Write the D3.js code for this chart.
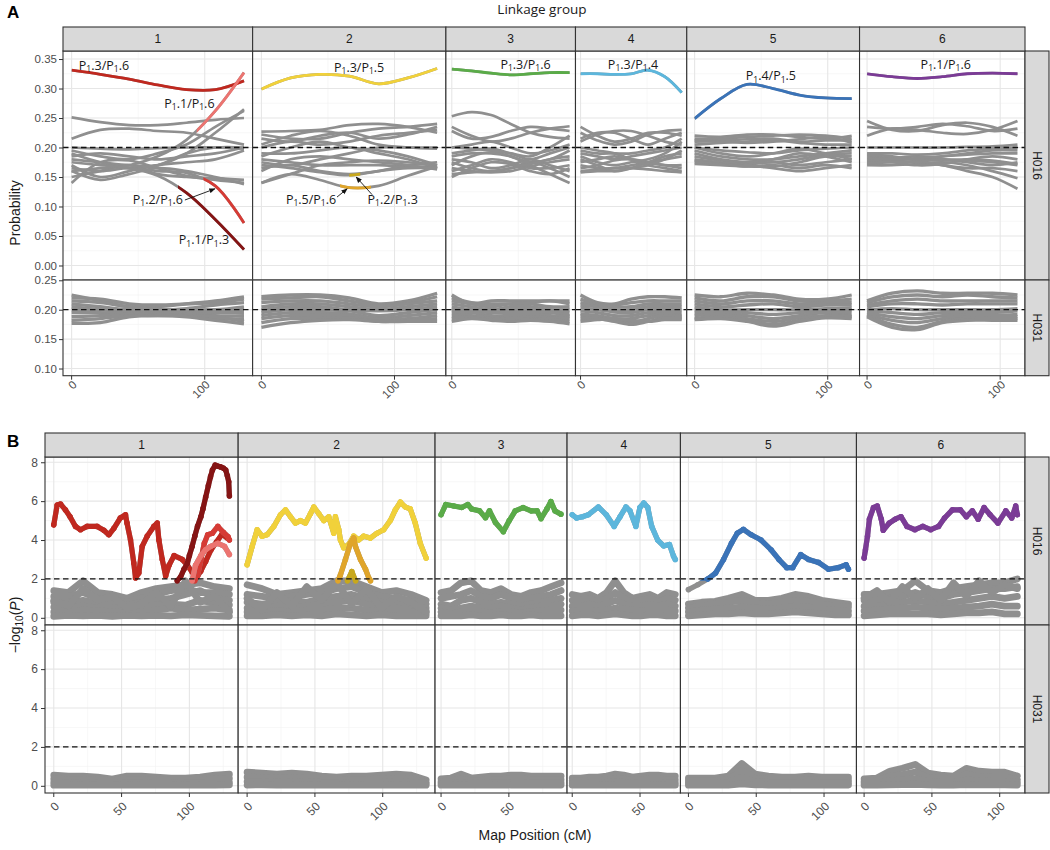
<!DOCTYPE html>
<html>
<head>
<meta charset="utf-8">
<script src="https://cdn.jsdelivr.net/npm/d3@7"></script>
<style>
  body { margin: 0; background: #fff; }
  svg text { font-family: "Liberation Sans", Arial, sans-serif; }
</style>
</head>
<body>
<svg id="chart" width="1050" height="850"></svg>
<script>
// ---- data -------------------------------------------------------------
var groups = ["1", "2", "3", "4", "5", "6"];
var groupLength = [129.5, 132, 88.5, 76, 118, 113];     // cM
var knotFrac = [0, 1/6, 2/6, 3/6, 4/6, 5/6, 1];          // probability knots, fraction of LG
var bandFrac = [0, 1/12, 2/12, 3/12, 4/12, 5/12, 6/12, 7/12, 8/12, 9/12, 10/12, 11/12, 1];
var probTicksH016 = [0, 0.05, 0.10, 0.15, 0.20, 0.25, 0.30, 0.35];
var probTicksH031 = [0.10, 0.15, 0.20, 0.25];
var logpTicks = [0, 2, 4, 6, 8];

// pairing probabilities, H016, grey pairs (one array of knot values per pair)
var grayH016 = [
  [[0.251,0.243,0.238,0.238,0.242,0.247,0.250],
   [0.215,0.230,0.232,0.228,0.225,0.215,0.205],
   [0.200,0.198,0.197,0.199,0.200,0.200,0.198],
   [0.180,0.175,0.170,0.170,0.190,0.225,0.265],
   [0.190,0.175,0.165,0.170,0.190,0.200,0.200],
   [0.170,0.150,0.160,0.170,0.175,0.180,0.195],
   [0.150,0.160,0.170,0.155,0.150,0.148,0.145],
   [0.140,0.175,0.178,0.165,0.152,0.145,0.140],
   [0.160,0.145,0.155,0.165,0.160,0.150,0.138],
   [0.185,0.190,0.185,0.180,0.185,0.190,0.200],
   [0.195,0.185,0.180,0.190,0.205,0.235,0.262]],
  [[0.227,0.228,0.230,0.238,0.240,0.235,0.225],
   [0.222,0.215,0.215,0.225,0.232,0.235,0.240],
   [0.215,0.210,0.220,0.225,0.215,0.222,0.235],
   [0.205,0.220,0.228,0.220,0.205,0.200,0.198],
   [0.200,0.210,0.205,0.210,0.220,0.225,0.230],
   [0.190,0.190,0.195,0.200,0.190,0.180,0.165],
   [0.180,0.175,0.170,0.170,0.170,0.168,0.168],
   [0.175,0.170,0.180,0.190,0.200,0.200,0.200],
   [0.165,0.170,0.160,0.155,0.160,0.170,0.175],
   [0.160,0.180,0.185,0.180,0.175,0.170,0.163],
   [0.140,0.155,0.170,0.175,0.178,0.175,0.170],
   [0.185,0.200,0.210,0.200,0.195,0.185,0.170]],
  [[0.253,0.260,0.255,0.240,0.225,0.218,0.215],
   [0.235,0.220,0.210,0.215,0.225,0.232,0.236],
   [0.228,0.215,0.218,0.228,0.235,0.232,0.228],
   [0.200,0.205,0.210,0.200,0.190,0.195,0.205],
   [0.190,0.195,0.198,0.190,0.180,0.190,0.200],
   [0.185,0.190,0.190,0.185,0.175,0.180,0.195],
   [0.180,0.175,0.165,0.170,0.180,0.170,0.160],
   [0.175,0.165,0.160,0.165,0.175,0.165,0.150],
   [0.170,0.185,0.192,0.185,0.170,0.155,0.140],
   [0.165,0.160,0.158,0.160,0.168,0.175,0.180],
   [0.160,0.170,0.180,0.175,0.165,0.165,0.170],
   [0.155,0.158,0.160,0.165,0.172,0.180,0.185],
   [0.150,0.165,0.175,0.172,0.160,0.155,0.165],
   [0.200,0.198,0.195,0.190,0.185,0.200,0.220]],
  [[0.235,0.220,0.210,0.215,0.225,0.225,0.220],
   [0.210,0.222,0.228,0.228,0.220,0.210,0.205],
   [0.215,0.225,0.225,0.215,0.205,0.215,0.225],
   [0.225,0.212,0.205,0.210,0.222,0.228,0.230],
   [0.195,0.190,0.190,0.190,0.195,0.200,0.215],
   [0.190,0.185,0.180,0.185,0.190,0.195,0.200],
   [0.185,0.175,0.170,0.175,0.180,0.190,0.210],
   [0.175,0.180,0.185,0.180,0.175,0.170,0.170],
   [0.170,0.165,0.165,0.170,0.175,0.180,0.185],
   [0.165,0.170,0.178,0.180,0.175,0.170,0.165],
   [0.160,0.162,0.165,0.165,0.163,0.160,0.158],
   [0.158,0.160,0.160,0.165,0.170,0.180,0.195],
   [0.180,0.170,0.160,0.165,0.175,0.185,0.190],
   [0.200,0.195,0.190,0.180,0.170,0.165,0.160]],
  [[0.220,0.218,0.222,0.222,0.218,0.215,0.220],
   [0.215,0.215,0.218,0.220,0.222,0.220,0.215],
   [0.212,0.212,0.214,0.215,0.210,0.212,0.212],
   [0.210,0.210,0.208,0.210,0.214,0.218,0.208],
   [0.205,0.208,0.210,0.212,0.208,0.205,0.205],
   [0.200,0.195,0.192,0.190,0.195,0.198,0.200],
   [0.195,0.185,0.180,0.180,0.185,0.190,0.195],
   [0.190,0.180,0.175,0.175,0.180,0.188,0.190],
   [0.185,0.178,0.175,0.180,0.190,0.185,0.175],
   [0.180,0.175,0.172,0.175,0.170,0.175,0.180],
   [0.178,0.172,0.170,0.165,0.160,0.165,0.170],
   [0.175,0.172,0.168,0.168,0.175,0.185,0.185],
   [0.172,0.170,0.168,0.170,0.165,0.170,0.165],
   [0.200,0.190,0.185,0.190,0.198,0.190,0.180]],
  [[0.245,0.230,0.228,0.238,0.242,0.235,0.220],
   [0.220,0.232,0.230,0.225,0.223,0.230,0.245],
   [0.235,0.232,0.235,0.240,0.236,0.228,0.232],
   [0.200,0.200,0.200,0.200,0.201,0.202,0.205],
   [0.190,0.190,0.188,0.190,0.195,0.198,0.200],
   [0.185,0.182,0.180,0.185,0.190,0.195,0.195],
   [0.180,0.182,0.185,0.180,0.175,0.170,0.175],
   [0.175,0.178,0.182,0.185,0.188,0.190,0.190],
   [0.170,0.170,0.172,0.175,0.170,0.160,0.148],
   [0.172,0.175,0.175,0.170,0.160,0.150,0.130],
   [0.188,0.185,0.178,0.170,0.165,0.165,0.160],
   [0.178,0.175,0.170,0.172,0.180,0.185,0.180],
   [0.182,0.180,0.180,0.178,0.180,0.178,0.172],
   [0.173,0.176,0.176,0.180,0.178,0.175,0.170]]
];

// pairing probabilities, H016, pairs with a significant stretch (from..to in cM)
var pairsH016 = [
  {group: "1", pair: "P1.3/P1.6", values: [0.331,0.324,0.316,0.306,0.298,0.298,0.313], from: 0,  to: 129.5},
  {group: "1", pair: "P1.1/P1.6", values: [0.160,0.165,0.170,0.185,0.213,0.262,0.327], from: 94, to: 129.5},
  {group: "1", pair: "P1.2/P1.6", values: [0.165,0.160,0.165,0.160,0.157,0.135,0.072], from: 99, to: 129.5},
  {group: "1", pair: "P1.1/P1.3", values: [0.175,0.170,0.165,0.152,0.123,0.078,0.027], from: 80, to: 129.5},
  {group: "2", pair: "P1.3/P1.5", values: [0.299,0.318,0.324,0.321,0.308,0.318,0.334], from: 0,  to: 132},
  {group: "2", pair: "P1.5/P1.6", values: [0.140,0.155,0.145,0.132,0.135,0.152,0.168], from: 59, to: 80},
  {group: "2", pair: "P1.2/P1.3", values: [0.170,0.165,0.158,0.153,0.160,0.165,0.165], from: 66, to: 72},
  {group: "3", pair: "P1.3/P1.6", values: [0.333,0.330,0.326,0.323,0.325,0.327,0.327], from: 0,  to: 88.5},
  {group: "4", pair: "P1.3/P1.4", values: [0.325,0.325,0.324,0.325,0.331,0.320,0.293], from: 0,  to: 76},
  {group: "5", pair: "P1.4/P1.5", values: [0.249,0.283,0.307,0.300,0.289,0.284,0.283], from: 0,  to: 118},
  {group: "6", pair: "P1.1/P1.6", values: [0.325,0.320,0.317,0.320,0.325,0.326,0.325], from: 0,  to: 113}
];

// pairing probabilities, H031 (all grey)
var grayH031 = [
  [[0.225,0.215,0.205,0.205,0.210,0.215,0.222],[0.220,0.218,0.210,0.208,0.210,0.212,0.218],
   [0.215,0.212,0.205,0.200,0.202,0.208,0.212],[0.210,0.205,0.200,0.200,0.200,0.200,0.205],
   [0.205,0.200,0.198,0.198,0.198,0.200,0.200],[0.200,0.200,0.195,0.195,0.196,0.195,0.195],
   [0.195,0.195,0.193,0.195,0.195,0.190,0.190],[0.188,0.190,0.192,0.193,0.193,0.185,0.185],
   [0.182,0.185,0.190,0.190,0.190,0.188,0.180],[0.177,0.178,0.188,0.190,0.188,0.182,0.176]],
  [[0.222,0.225,0.225,0.220,0.210,0.215,0.228],[0.218,0.220,0.222,0.215,0.208,0.212,0.222],
   [0.212,0.215,0.215,0.210,0.205,0.210,0.215],[0.205,0.210,0.210,0.205,0.200,0.205,0.210],
   [0.200,0.205,0.205,0.200,0.198,0.200,0.205],[0.195,0.200,0.200,0.198,0.190,0.195,0.200],
   [0.190,0.195,0.195,0.193,0.186,0.190,0.195],[0.185,0.190,0.190,0.190,0.184,0.185,0.190],
   [0.178,0.185,0.185,0.186,0.180,0.182,0.185],[0.170,0.178,0.182,0.183,0.180,0.180,0.180]],
  [[0.225,0.210,0.215,0.215,0.215,0.215,0.215],[0.220,0.212,0.210,0.210,0.212,0.215,0.210],
   [0.215,0.210,0.205,0.210,0.210,0.205,0.205],[0.210,0.205,0.200,0.205,0.205,0.200,0.200],
   [0.205,0.200,0.198,0.200,0.200,0.198,0.195],[0.200,0.198,0.195,0.195,0.195,0.195,0.190],
   [0.195,0.195,0.190,0.190,0.190,0.190,0.188],[0.190,0.190,0.188,0.185,0.188,0.186,0.185],
   [0.185,0.188,0.185,0.183,0.185,0.183,0.180],[0.180,0.185,0.182,0.180,0.182,0.180,0.176]],
  [[0.225,0.212,0.210,0.218,0.222,0.222,0.220],[0.218,0.210,0.208,0.212,0.215,0.215,0.215],
   [0.212,0.208,0.205,0.205,0.210,0.210,0.210],[0.208,0.205,0.200,0.200,0.205,0.205,0.205],
   [0.203,0.200,0.196,0.195,0.200,0.200,0.200],[0.198,0.195,0.190,0.190,0.195,0.195,0.195],
   [0.193,0.190,0.185,0.185,0.190,0.192,0.190],[0.190,0.188,0.182,0.178,0.185,0.190,0.188],
   [0.185,0.185,0.180,0.175,0.180,0.186,0.185],[0.180,0.183,0.185,0.182,0.180,0.183,0.183]],
  [[0.225,0.222,0.228,0.225,0.218,0.218,0.225],[0.220,0.215,0.222,0.222,0.215,0.215,0.218],
   [0.215,0.210,0.215,0.215,0.210,0.212,0.212],[0.210,0.205,0.208,0.210,0.205,0.208,0.208],
   [0.205,0.200,0.200,0.200,0.200,0.202,0.203],[0.200,0.198,0.195,0.192,0.195,0.198,0.200],
   [0.195,0.195,0.190,0.185,0.190,0.195,0.195],[0.190,0.192,0.185,0.180,0.186,0.190,0.190],
   [0.185,0.188,0.182,0.175,0.182,0.188,0.188],[0.183,0.185,0.180,0.172,0.180,0.186,0.185]],
  [[0.215,0.228,0.232,0.228,0.228,0.228,0.225],[0.212,0.222,0.225,0.222,0.225,0.222,0.220],
   [0.208,0.215,0.218,0.215,0.215,0.215,0.215],[0.205,0.210,0.210,0.208,0.210,0.210,0.210],
   [0.200,0.202,0.200,0.200,0.200,0.200,0.202],[0.198,0.195,0.192,0.195,0.195,0.195,0.198],
   [0.195,0.188,0.185,0.190,0.190,0.190,0.192],[0.192,0.182,0.178,0.185,0.188,0.188,0.188],
   [0.190,0.175,0.170,0.180,0.185,0.185,0.185],[0.188,0.170,0.166,0.178,0.182,0.182,0.182]]
];

// -log10(P), H016, grey pairs sampled on bandFrac
var bandH016 = [
  [[1.40,1.30,1.90,1.30,1.20,1.00,1.30,1.50,1.60,1.70,1.80,1.60,1.50],
   [1.10,1.10,1.30,1.00,0.95,0.80,1.00,1.20,1.40,1.50,1.30,1.30,1.20],
   [0.80,0.80,0.90,0.75,0.70,0.65,0.80,0.90,1.00,1.20,1.40,1.00,0.90],
   [0.55,0.55,0.60,0.50,0.50,0.45,0.55,0.65,0.70,0.65,0.90,0.75,0.65],
   [0.30,0.30,0.40,0.35,0.30,0.25,0.30,0.40,0.50,0.40,0.45,0.50,0.40],
   [0.08,0.12,0.10,0.12,0.08,0.12,0.10,0.12,0.10,0.15,0.12,0.10,0.08],
   [0.90,0.60,1.50,0.90,1.10,0.50,0.70,1.30,0.60,1.90,0.80,1.10,0.30]],
  [[1.70,1.50,1.20,1.30,1.40,1.50,1.90,1.90,1.60,1.30,1.40,1.20,0.90],
   [1.20,1.10,1.00,1.10,1.20,1.30,1.50,1.60,1.30,1.10,1.00,0.90,0.70],
   [0.80,0.70,0.80,0.90,0.80,1.00,1.10,1.20,1.00,0.80,0.70,0.60,0.50],
   [0.50,0.50,0.60,0.50,0.60,0.70,0.80,0.90,0.70,0.50,0.50,0.40,0.35],
   [0.30,0.30,0.35,0.30,0.40,0.40,0.50,0.50,0.40,0.30,0.30,0.30,0.20],
   [0.10,0.10,0.15,0.10,0.15,0.10,0.20,0.15,0.10,0.15,0.10,0.10,0.10],
   [1.00,0.40,1.30,0.60,1.60,0.90,1.80,0.70,1.50,0.50,1.10,0.80,0.30]],
  [[1.30,1.40,1.80,1.90,1.40,1.30,1.50,1.20,1.10,1.30,1.40,1.60,1.80],
   [1.00,1.10,1.20,1.40,1.10,1.00,1.20,1.00,0.90,1.00,1.10,1.20,1.40],
   [0.70,0.60,0.90,1.00,0.80,0.70,0.80,0.70,0.60,0.70,0.80,0.90,1.00],
   [0.50,0.40,0.50,0.60,0.50,0.50,0.60,0.50,0.40,0.50,0.60,0.60,0.70],
   [0.30,0.20,0.30,0.30,0.30,0.25,0.30,0.30,0.25,0.30,0.35,0.40,0.40],
   [0.10,0.10,0.10,0.15,0.10,0.10,0.15,0.10,0.10,0.15,0.10,0.10,0.10]],
  [[1.20,1.10,1.20,1.00,1.30,1.90,1.30,1.00,1.10,1.20,1.00,1.30,1.20],
   [0.90,0.90,1.00,0.80,1.00,1.30,1.00,0.80,0.90,1.00,0.80,1.00,0.90],
   [0.60,0.60,0.70,0.60,0.70,0.90,0.70,0.60,0.60,0.70,0.60,0.70,0.60],
   [0.35,0.40,0.40,0.35,0.40,0.50,0.45,0.40,0.35,0.40,0.40,0.40,0.35],
   [0.10,0.15,0.15,0.10,0.15,0.20,0.15,0.10,0.10,0.15,0.15,0.10,0.10]],
  [[0.70,0.80,0.85,1.00,1.20,0.90,0.90,1.00,1.20,1.10,0.90,0.80,0.70],
   [0.50,0.60,0.70,0.80,0.90,0.75,0.70,0.80,0.90,0.85,0.70,0.60,0.55],
   [0.30,0.40,0.45,0.50,0.55,0.50,0.45,0.50,0.60,0.55,0.45,0.40,0.35],
   [0.10,0.15,0.20,0.20,0.25,0.20,0.20,0.25,0.30,0.25,0.20,0.15,0.15]],
  [[1.20,1.20,1.30,1.40,1.90,1.40,1.30,1.50,1.60,1.70,1.80,1.80,2.00],
   [0.90,0.90,1.00,1.10,1.30,1.10,1.00,1.20,1.30,1.40,1.50,1.50,1.60],
   [0.60,0.60,0.70,0.80,0.90,0.80,0.70,0.80,0.90,1.00,1.10,1.00,1.10],
   [0.35,0.40,0.45,0.50,0.55,0.50,0.45,0.50,0.55,0.60,0.70,0.60,0.60],
   [0.10,0.15,0.20,0.20,0.20,0.20,0.15,0.20,0.25,0.25,0.30,0.20,0.20],
   [1.00,1.40,0.80,1.60,1.00,1.50,0.90,1.80,1.10,1.90,1.30,1.70,1.50]]
];

// -log10(P), H031, all pairs grey
var bandH031 = [
  [[0.55,0.50,0.50,0.45,0.35,0.50,0.50,0.45,0.40,0.40,0.45,0.55,0.60],
   [0.35,0.32,0.32,0.30,0.25,0.32,0.32,0.30,0.28,0.28,0.30,0.35,0.38],
   [0.18,0.16,0.18,0.15,0.14,0.16,0.16,0.15,0.15,0.16,0.16,0.18,0.18],
   [0.03,0.04,0.05,0.03,0.03,0.05,0.04,0.03,0.03,0.05,0.04,0.03,0.05]],
  [[0.70,0.65,0.60,0.65,0.60,0.50,0.45,0.50,0.50,0.55,0.60,0.55,0.30],
   [0.45,0.42,0.40,0.42,0.38,0.32,0.30,0.32,0.32,0.35,0.38,0.35,0.18],
   [0.22,0.22,0.20,0.22,0.20,0.17,0.16,0.17,0.17,0.18,0.20,0.18,0.10],
   [0.04,0.05,0.04,0.04,0.05,0.04,0.03,0.05,0.04,0.04,0.05,0.04,0.03]],
  [[0.35,0.40,0.60,0.40,0.45,0.50,0.50,0.55,0.55,0.50,0.50,0.50,0.50],
   [0.22,0.25,0.35,0.26,0.28,0.32,0.32,0.34,0.34,0.32,0.32,0.32,0.32],
   [0.12,0.14,0.18,0.14,0.15,0.16,0.16,0.17,0.17,0.16,0.16,0.16,0.16],
   [0.03,0.04,0.05,0.03,0.04,0.04,0.05,0.04,0.04,0.03,0.04,0.04,0.04]],
  [[0.40,0.40,0.45,0.45,0.50,0.60,0.55,0.45,0.50,0.55,0.55,0.50,0.50],
   [0.26,0.26,0.28,0.28,0.32,0.38,0.34,0.28,0.32,0.34,0.34,0.32,0.32],
   [0.14,0.14,0.15,0.15,0.17,0.19,0.17,0.15,0.17,0.17,0.17,0.16,0.16],
   [0.03,0.04,0.04,0.03,0.05,0.04,0.04,0.03,0.04,0.04,0.05,0.04,0.03]],
  [[0.40,0.40,0.40,0.50,1.15,0.60,0.50,0.45,0.45,0.50,0.45,0.45,0.45],
   [0.26,0.26,0.26,0.32,0.80,0.38,0.32,0.30,0.30,0.32,0.30,0.30,0.30],
   [0.14,0.14,0.14,0.17,0.45,0.20,0.17,0.16,0.16,0.17,0.16,0.16,0.16],
   [0.03,0.04,0.04,0.04,0.10,0.05,0.04,0.04,0.04,0.04,0.04,0.03,0.04]],
  [[0.35,0.40,0.75,0.90,1.10,0.65,0.55,0.50,0.90,0.75,0.70,0.70,0.50],
   [0.22,0.26,0.48,0.58,0.70,0.42,0.35,0.32,0.60,0.48,0.45,0.45,0.32],
   [0.12,0.14,0.25,0.30,0.36,0.22,0.18,0.17,0.30,0.25,0.23,0.23,0.17],
   [0.03,0.04,0.05,0.06,0.08,0.05,0.04,0.04,0.06,0.05,0.05,0.05,0.04]]
];

// -log10(P), H016, pairs that pass the threshold: [cM, -log10 P]
var logpPairsH016 = [
  {group: "1", pair: "P1.3/P1.6", points: [[0,4.78],[2.5,5.8],[5,5.85],[8.6,5.55],[12,5.2],[16,4.7],[19.7,4.53],[24.6,4.7],[32,4.7],[36.9,4.5],[40.6,4.27],[44.3,4.6],[49,5.13],[52.9,5.3],[54,4.87],[56.6,4.0],[59,2.82],[60.3,2.05],[62.7,2.3],[65.2,3.67],[68.9,4.2],[73.8,4.7],[76.3,4.87],[77.5,4.0],[80,3.0],[82.5,2.15],[85,2.7],[88.7,3.2],[94.8,3.0],[98.5,2.7],[102,2.35],[106,2.15],[108.4,2.4],[112,2.9],[116,3.5],[120,3.9],[124,4.3],[128,4.1]]},
  {group: "1", pair: "P1.1/P1.3", points: [[91,1.9],[93.5,2.1],[96,2.5],[98.5,2.8],[100,3.2],[102,3.67],[104,4.2],[106,4.7],[108.5,5.2],[110,5.6],[112,6.2],[114,6.8],[115.6,7.26],[117,7.6],[119,7.85],[121,7.8],[123,7.76],[125,7.7],[126.8,7.6],[128,7.3],[129,7.0],[129.5,6.27]]},
  {group: "1", pair: "P1.2/P1.6", points: [[104,1.9],[106,2.15],[108.5,3.0],[111,3.83],[113.5,4.27],[117,4.35],[121,4.7],[125,4.4],[128.5,4.17],[129.5,4.0]]},
  {group: "1", pair: "P1.1/P1.6", points: [[102,1.9],[104.5,2.7],[108.5,3.2],[112,3.5],[115.6,3.67],[121,3.83],[126,3.67],[129.5,3.25]]},
  {group: "2", pair: "P1.3/P1.5", points: [[0,2.73],[3.7,3.67],[7.4,4.53],[11,4.2],[14.7,4.27],[19.7,4.7],[24.6,5.3],[28.3,5.55],[32,5.2],[35.6,4.87],[39.3,5.0],[43,4.87],[46.7,5.35],[49.2,5.7],[52.9,5.35],[56.5,5.0],[60.2,5.2],[63.9,4.35],[65.1,5.2],[67.6,4.53],[68.8,4.0],[71.2,3.6],[74.9,3.77],[78.6,4.2],[82.3,4.0],[86,4.2],[90.9,4.1],[95.8,4.35],[100.7,4.53],[105.6,5.0],[109.3,5.55],[113,5.95],[116.6,5.7],[120.3,5.6],[124,4.87],[127.7,3.83],[132,3.07]]},
  {group: "2", pair: "P1.5/P1.6", points: [[67,1.9],[68.8,2.2],[72.5,3.0],[76.2,3.83],[78.6,4.1],[79.9,3.67],[83.6,3.0],[87.3,2.5],[89.7,2.05],[91,1.9]]},
  {group: "2", pair: "P1.2/P1.3", points: [[74,1.9],[77.2,2.38],[80,1.9]]},
  {group: "3", pair: "P1.3/P1.6", points: [[0,5.3],[3.5,5.83],[9.4,5.75],[15.2,5.67],[19.7,5.83],[22.5,5.6],[28.4,5.5],[32.8,5.15],[35.7,5.5],[40.1,4.9],[45.9,4.43],[50.3,5.0],[54.7,5.5],[60.5,5.67],[66.4,5.5],[70.8,5.5],[73.7,5.1],[78.1,5.6],[81,5.98],[84,5.5],[88.4,5.33]]},
  {group: "4", pair: "P1.3/P1.4", points: [[0,5.3],[3.2,5.13],[7.5,5.2],[11.9,5.3],[19.2,5.7],[25.1,5.3],[30.9,4.7],[35.3,5.2],[39.6,5.7],[42.6,5.5],[46.9,4.7],[49.9,5.67],[52.8,5.9],[55.7,5.67],[58.6,4.7],[63,4.0],[67.4,3.7],[71.7,3.77],[74.7,3.17],[76,3.0]]},
  {group: "5", pair: "P1.4/P1.5", points: [[0,1.45],[6.9,1.7],[14.2,1.99],[20,2.3],[25.9,3.0],[31.7,3.83],[36,4.35],[40.5,4.55],[46.3,4.27],[53.6,4.0],[60.9,3.5],[66.7,3.0],[72.5,2.58],[76.9,2.58],[82.8,3.25],[88.6,3.0],[95.9,2.85],[103.2,2.5],[110.5,2.58],[116.3,2.73],[118,2.5]]},
  {group: "6", pair: "P1.1/P1.6", points: [[0,3.07],[1,3.5],[2.5,4.2],[3.9,5.07],[6.9,5.67],[9.7,5.75],[12.7,5.07],[14.1,4.5],[18.5,4.87],[22.9,5.07],[27.2,5.2],[31.6,4.7],[37.5,4.53],[43.3,4.7],[49.1,4.53],[54.9,4.7],[59.3,5.13],[65.1,5.55],[71,5.55],[75.4,5.2],[79.8,5.5],[84.1,5.07],[88.5,5.67],[92.9,5.3],[98.7,4.87],[104.5,5.5],[108.9,5.13],[111.8,5.75],[113,5.3]]}
];

// pair labels (cM, probability) and arrows in panel A
var pairLabels = [
  {group: "1", pair: "P1.3/P1.6", cM: 24.3, p: 0.332},
  {group: "1", pair: "P1.1/P1.6", cM: 88.5, p: 0.267},
  {group: "1", pair: "P1.2/P1.6", cM: 64.8, p: 0.104},
  {group: "1", pair: "P1.1/P1.3", cM: 99.4, p: 0.036},
  {group: "2", pair: "P1.3/P1.5", cM: 73.4, p: 0.328},
  {group: "2", pair: "P1.5/P1.6", cM: 37.3, p: 0.104},
  {group: "2", pair: "P1.2/P1.3", cM: 98.6, p: 0.104},
  {group: "3", pair: "P1.3/P1.6", cM: 55.4, p: 0.333},
  {group: "4", pair: "P1.3/P1.4", cM: 39.4, p: 0.333},
  {group: "5", pair: "P1.4/P1.5", cM: 57.3, p: 0.314},
  {group: "6", pair: "P1.1/P1.6", cM: 59.1, p: 0.333}
];
var pairArrows = [
  {group: "1", from: [85.1, 0.111], to: [107.7, 0.130]},
  {group: "2", from: [56.8, 0.116], to: [64.4, 0.130]},
  {group: "2", from: [83.2, 0.120], to: [71.2, 0.150]}
];

// ---- styles -----------------------------------------------------------
var GREY = "#8f8f8f";
var pairColour = {
  "1:P1.3/P1.6": "#c0281f", "1:P1.1/P1.6": "#ec7470", "1:P1.2/P1.6": "#d63b35", "1:P1.1/P1.3": "#851414",
  "2:P1.3/P1.5": "#f1d13a", "2:P1.5/P1.6": "#e0a52a", "2:P1.2/P1.3": "#c8a81c",
  "3:P1.3/P1.6": "#5aab48", "4:P1.3/P1.4": "#5cb6dc", "5:P1.4/P1.5": "#3a73b8", "6:P1.1/P1.6": "#7b3b96"
};

var svg = d3.select("#chart");
var RIGHT = 1025, STRIP = 24;
var defs = svg.append("defs");
defs.append("marker").attr("id", "arrowhead").attr("viewBox", "0 0 10 10").attr("refX", 9).attr("refY", 5)
  .attr("markerWidth", 7).attr("markerHeight", 7).attr("orient", "auto")
  .append("path").attr("d", "M0,1 L10,5 L0,9 z").attr("fill", "#111");

var smooth = d3.line().curve(d3.curveCatmullRom.alpha(0.5));
var straight = d3.line();
var clipCount = 0;

function minorOf(ticks) {
  var step = ticks[1] - ticks[0];
  var out = [ticks[0] - step / 2];
  ticks.forEach(function (t) { out.push(t + step / 2); });
  return out;
}

function subLabel(t, label, fs) {
  // "P1.3/P1.6" -> P with subscript 1
  label.split("/").forEach(function (part, i) {
    t.append("tspan").text((i ? "/" : "") + part[0]);
    t.append("tspan").attr("font-size", fs * 0.68).attr("dy", fs * 0.18).text(part[1]);
    t.append("tspan").attr("dy", -fs * 0.18).text(part.slice(2));
  });
}

function block(cfg) {
  var g = svg.append("g");
  var total = d3.sum(groupLength, function (L) { return L * 1.1; });
  var unit = (RIGHT - cfg.left) / total;
  var cursor = cfg.left;
  var xs = groupLength.map(function (L) {
    var s = d3.scaleLinear().domain([-0.05 * L, 1.05 * L]).range([cursor, cursor + L * 1.1 * unit]);
    cursor += L * 1.1 * unit;
    return s;
  });
  var ys = [];

  cfg.rows.forEach(function (row, r) {
    var y = d3.scaleLinear().domain(row.domain).range([row.bottom, row.top]);
    ys.push(y);
    var yMinor = minorOf(row.ticks).filter(function (v) { return v > row.domain[0] && v < row.domain[1]; });
    xs.forEach(function (x, gi) {
      var xa = x.range()[0], xb = x.range()[1];
      var inX = function (v) { return v >= x.domain()[0] && v <= x.domain()[1]; };
      var p = g.append("g");
      p.append("rect").attr("x", xa).attr("y", row.top).attr("width", xb - xa).attr("height", row.bottom - row.top).attr("fill", "#fff");
      cfg.xMinor.filter(inX).forEach(function (v) {
        p.append("line").attr("x1", x(v)).attr("x2", x(v)).attr("y1", row.top).attr("y2", row.bottom).attr("stroke", "#f2f2f2").attr("stroke-width", 0.6);
      });
      yMinor.forEach(function (v) {
        p.append("line").attr("x1", xa).attr("x2", xb).attr("y1", y(v)).attr("y2", y(v)).attr("stroke", "#f2f2f2").attr("stroke-width", 0.6);
      });
      cfg.xTicks.filter(inX).forEach(function (v) {
        p.append("line").attr("x1", x(v)).attr("x2", x(v)).attr("y1", row.top).attr("y2", row.bottom).attr("stroke", "#e6e6e6").attr("stroke-width", 1.1);
      });
      row.ticks.filter(function (v) { return v >= row.domain[0] && v <= row.domain[1]; }).forEach(function (v) {
        p.append("line").attr("x1", xa).attr("x2", xb).attr("y1", y(v)).attr("y2", y(v)).attr("stroke", "#e6e6e6").attr("stroke-width", 1.1);
      });
      cfg.draw(p, gi, r, x, y, row);
      p.append("line").attr("x1", xa).attr("x2", xb).attr("y1", y(cfg.hline)).attr("y2", y(cfg.hline))
        .attr("stroke", "#111").attr("stroke-width", 1.3).attr("stroke-dasharray", "5.5,3.5");
      p.append("rect").attr("x", xa).attr("y", row.top).attr("width", xb - xa).attr("height", row.bottom - row.top)
        .attr("fill", "none").attr("stroke", "#333").attr("stroke-width", 1.1);
    });

    // y axis
    g.append("g").attr("transform", "translate(" + cfg.left + ",0)")
      .call(d3.axisLeft(y).tickValues(row.ticks).tickFormat(cfg.yFormat).tickSize(4).tickPadding(cfg.yPad))
      .call(function (a) { a.select(".domain").remove(); })
      .call(function (a) {
        a.selectAll("line").attr("stroke", "#333");
        a.selectAll("text").attr("fill", "#4d4d4d").attr("font-size", cfg.tickFont).attr("font-family", "Liberation Sans, Arial, sans-serif");
      });

    // right strip
    g.append("rect").attr("x", RIGHT).attr("y", row.top).attr("width", STRIP).attr("height", row.bottom - row.top)
      .attr("fill", "#d9d9d9").attr("stroke", "#333").attr("stroke-width", 1.1);
    g.append("text").attr("transform", "translate(" + (RIGHT + STRIP / 2) + "," + ((row.top + row.bottom) / 2) + ") rotate(90)")
      .attr("text-anchor", "middle").attr("dy", "0.35em").attr("font-size", 12).attr("fill", "#1a1a1a").text(row.name);
  });

  // top strips and x axes
  var last = cfg.rows[cfg.rows.length - 1];
  xs.forEach(function (x, gi) {
    var xa = x.range()[0], xb = x.range()[1];
    g.append("rect").attr("x", xa).attr("y", cfg.stripTop).attr("width", xb - xa).attr("height", STRIP)
      .attr("fill", "#d9d9d9").attr("stroke", "#333").attr("stroke-width", 1.1);
    g.append("text").attr("x", (xa + xb) / 2).attr("y", cfg.stripTop + STRIP / 2).attr("dy", "0.35em")
      .attr("text-anchor", "middle").attr("font-size", 12).attr("fill", "#1a1a1a").text(groups[gi]);
    cfg.xTicks.filter(function (v) { return v >= x.domain()[0] && v <= x.domain()[1]; }).forEach(function (v) {
      g.append("line").attr("x1", x(v)).attr("x2", x(v)).attr("y1", last.bottom).attr("y2", last.bottom + 4).attr("stroke", "#333");
      var ty = last.bottom + cfg.xLabelGap;
      g.append("text").attr("x", x(v)).attr("y", ty).attr("dy", "0.72em").attr("text-anchor", "end")
        .attr("transform", "rotate(-45," + x(v) + "," + ty + ")")
        .attr("font-size", cfg.tickFont).attr("fill", "#4d4d4d").text(v);
    });
  });
  return {xs: xs, ys: ys, g: g};
}

function drawProb(p, gi, r, x, y) {
  var L = groupLength[gi];
  var path = function (vals) { return smooth(knotFrac.map(function (f, i) { return [x(f * L), y(vals[i])]; })); };
  var greys = r === 0 ? grayH016[gi] : grayH031[gi];
  greys.forEach(function (v) {
    p.append("path").attr("d", path(v)).attr("fill", "none").attr("stroke", GREY).attr("stroke-width", r === 0 ? 2.7 : 3.3);
  });
  if (r !== 0) return;
  var mine = pairsH016.filter(function (h) { return h.group === groups[gi]; });
  mine.forEach(function (h) {
    p.append("path").attr("d", path(h.values)).attr("fill", "none").attr("stroke", GREY).attr("stroke-width", 2.7);
  });
  mine.forEach(function (h) {
    var id = "clip" + (clipCount++);
    defs.append("clipPath").attr("id", id).append("rect")
      .attr("x", x(h.from)).attr("width", x(h.to) - x(h.from) + 3).attr("y", 0).attr("height", 850);
    p.append("path").attr("d", path(h.values)).attr("fill", "none").attr("clip-path", "url(#" + id + ")")
      .attr("stroke", pairColour[h.group + ":" + h.pair]).attr("stroke-width", 2.8);
  });
}

function drawLogp(p, gi, r, x, y, row) {
  var L = groupLength[gi];
  var bands = r === 0 ? bandH016[gi] : bandH031[gi];
  bands.forEach(function (v) {
    var pts = bandFrac.map(function (f, i) { return [x(f * L), y(v[i])]; });
    p.append("path").attr("d", straight(pts)).attr("fill", "none").attr("stroke", GREY)
      .attr("stroke-width", 6.8).attr("stroke-linejoin", "round").attr("stroke-linecap", "round");
  });
  if (r !== 0) return;
  var mine = logpPairsH016.filter(function (h) { return h.group === groups[gi]; });
  mine.forEach(function (h) {
    var col = pairColour[h.group + ":" + h.pair];
    var pts = h.points.map(function (d) { return [x(d[0]), y(d[1])]; });
    var id = "clip" + (clipCount++);
    defs.append("clipPath").attr("id", id).append("rect")
      .attr("x", 0).attr("width", 1050).attr("y", row.top).attr("height", y(1.9) - row.top);
    p.append("path").attr("d", straight(pts)).attr("fill", "none").attr("stroke", GREY)
      .attr("stroke-width", 5.2).attr("stroke-linejoin", "round").attr("stroke-linecap", "round");
    p.append("path").attr("d", straight(pts)).attr("fill", "none").attr("stroke", col).attr("clip-path", "url(#" + id + ")")
      .attr("stroke-width", 5.2).attr("stroke-linejoin", "round").attr("stroke-linecap", "round");
    p.selectAll(null).data(h.points).enter().append("circle")
      .attr("cx", function (d) { return x(d[0]); }).attr("cy", function (d) { return y(d[1]); })
      .attr("r", 2.8).attr("fill", function (d) { return d[1] >= 1.9 ? col : GREY; });
  });
}

// ---- panel A ----------------------------------------------------------
var A = block({
  left: 63, stripTop: 27,
  rows: [
    {name: "H016", top: 51, bottom: 280, domain: [-0.0246, 0.3636], ticks: probTicksH016},
    {name: "H031", top: 280, bottom: 375.7, domain: [0.0878, 0.2505], ticks: probTicksH031}
  ],
  xTicks: [0, 100], xMinor: [50, 150], hline: 0.2,
  yFormat: d3.format(".2f"), yPad: 2, tickFont: 11.5, xLabelGap: 4,
  draw: drawProb
});

pairLabels.forEach(function (l) {
  var gi = groups.indexOf(l.group);
  var t = A.g.append("text").attr("x", A.xs[gi](l.cM)).attr("y", A.ys[0](l.p))
    .attr("text-anchor", "middle").attr("font-size", 12.5).attr("fill", "#1a1a1a")
    .style("font-family", "'Open Sans', 'Noto Sans', sans-serif");
  subLabel(t, l.pair, 12.5);
});
pairArrows.forEach(function (a) {
  var gi = groups.indexOf(a.group);
  A.g.append("line").attr("x1", A.xs[gi](a.from[0])).attr("y1", A.ys[0](a.from[1]))
    .attr("x2", A.xs[gi](a.to[0])).attr("y2", A.ys[0](a.to[1]))
    .attr("stroke", "#111").attr("stroke-width", 0.9).attr("marker-end", "url(#arrowhead)");
});

// ---- panel B ----------------------------------------------------------
var B = block({
  left: 45, stripTop: 433,
  rows: [
    {name: "H016", top: 457, bottom: 625, domain: [-0.37, 8.27], ticks: logpTicks},
    {name: "H031", top: 625, bottom: 793, domain: [-0.37, 8.27], ticks: logpTicks}
  ],
  xTicks: [0, 50, 100], xMinor: [25, 75, 125], hline: 2,
  yFormat: d3.format("d"), yPad: 3, tickFont: 12, xLabelGap: 8,
  draw: drawLogp
});

// ---- titles -----------------------------------------------------------
svg.append("text").attr("x", 7).attr("y", 18).attr("font-size", 17).attr("font-weight", "bold").text("A");
svg.append("text").attr("x", 7).attr("y", 447).attr("font-size", 17).attr("font-weight", "bold").text("B");
svg.append("text").attr("x", 542).attr("y", 14).attr("text-anchor", "middle").attr("font-size", 13.5)
  .style("font-family", "'Open Sans', 'Noto Sans', sans-serif").attr("fill", "#1a1a1a").text("Linkage group");
svg.append("text").attr("transform", "translate(20,213) rotate(-90)").attr("text-anchor", "middle")
  .attr("font-size", 14).attr("fill", "#1a1a1a").text("Probability");
var ylab = svg.append("text").attr("transform", "translate(20,625) rotate(-90)").attr("text-anchor", "middle")
  .attr("font-size", 14).attr("fill", "#1a1a1a");
ylab.append("tspan").text("\u2212log");
ylab.append("tspan").attr("font-size", 10).attr("dy", 3).text("10");
ylab.append("tspan").attr("dy", -3).text("(");
ylab.append("tspan").attr("font-style", "italic").text("P");
ylab.append("tspan").text(")");
svg.append("text").attr("x", 535).attr("y", 840).attr("text-anchor", "middle").attr("font-size", 14)
  .attr("fill", "#1a1a1a").text("Map Position (cM)");
</script>
</body>
</html>
